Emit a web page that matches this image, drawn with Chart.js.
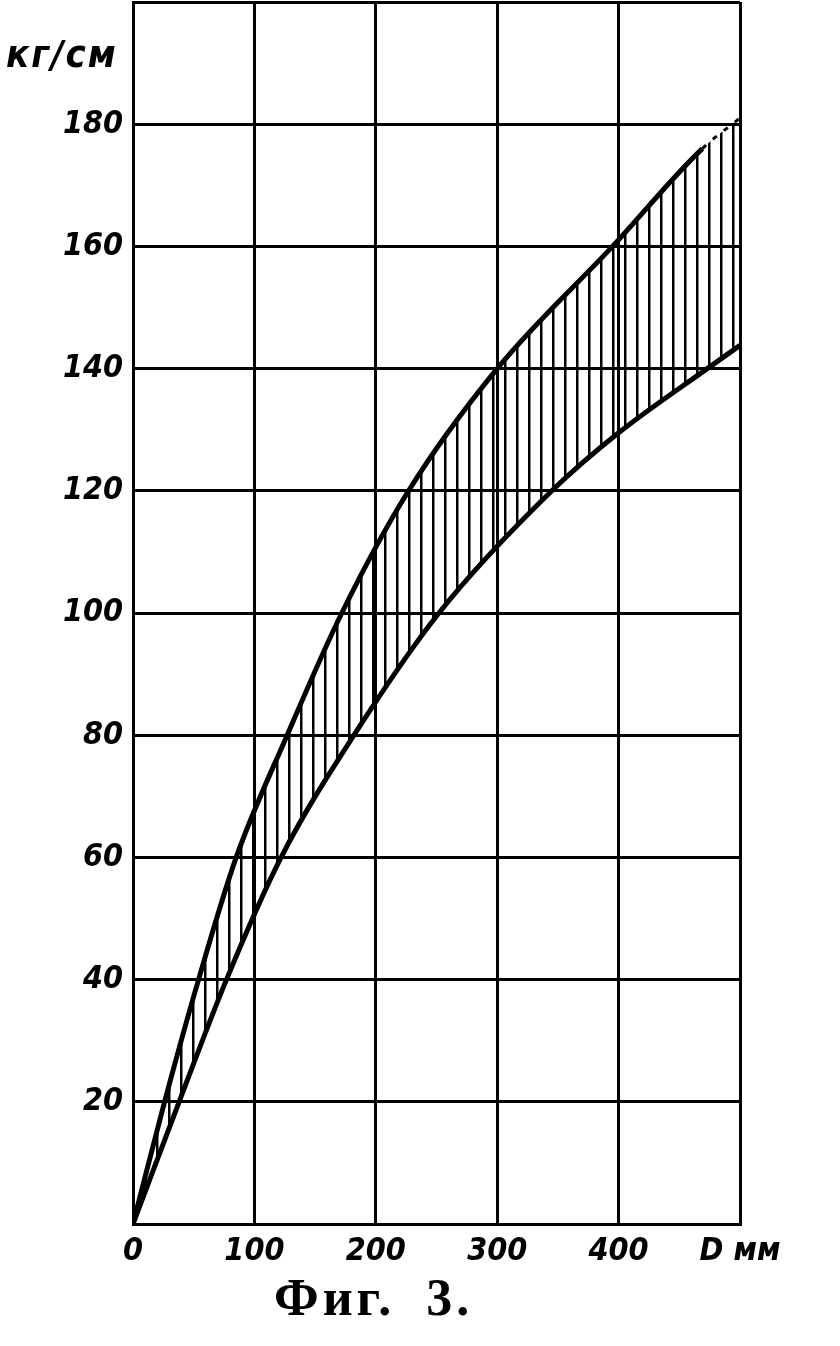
<!DOCTYPE html>
<html>
<head>
<meta charset="utf-8">
<script src="https://cdn.jsdelivr.net/npm/chart.js@4"></script>
<style>
    body { margin: 0; background: #fff; }
    #wrap { position: relative; width: 840px; height: 1346px; }
    #chart { position: absolute; left: 0; top: 0; }
    .unit {
        position: absolute; left: 6px; top: 32px;
        font: italic bold 38px "Liberation Sans Narrow", "DejaVu Sans Condensed", sans-serif;
        letter-spacing: 2px;
        color: #000;
    }
    .caption {
        position: absolute; left: 274px; top: 1268px;
        font: bold 52px "Liberation Serif", "DejaVu Serif", serif;
        letter-spacing: 4px;
        word-spacing: 14px;
        color: #000;
    }
</style>
</head>
<body>
<div id="wrap">
    <canvas id="chart" width="840" height="1346"></canvas>
    <div class="unit">кг/см</div>
    <div class="caption">Фиг. 3.</div>
</div>
<script>
// upper boundary of the band (last segment drawn dotted)
const upperX = [0, 26, 54, 85, 127, 172, 227, 300, 395, 469, 500];
const upperY = [0, 20, 40, 60, 80, 100, 120, 140, 160, 176, 181];

// lower boundary of the band
const lowerX = [0, 38, 77, 122, 182, 252, 345, 400, 473, 500];
const lowerY = [0, 20, 40, 60, 80, 100, 120, 129.5, 140, 143.8];

const xTicks = [0, 100, 200, 300, 400, 500];
const xLabels = ['0', '100', '200', '300', '400', 'D мм'];

// vertical hatching between the two curves
function makeHatch() {
    const c = document.createElement('canvas');
    c.width = 12;
    c.height = 12;
    const g = c.getContext('2d');
    g.fillStyle = '#000';
    g.fillRect(0, 0, 2.5, 12);
    return g.createPattern(c, 'repeat');
}

const toPoints = (xs, ys) => xs.map((x, i) => ({ x: x, y: ys[i] }));
const lastUpper = upperX.length - 2;

const tickFont = { family: '"Liberation Sans Narrow", "DejaVu Sans Condensed", sans-serif', size: 32, style: 'italic', weight: 'bold' };

new Chart(document.getElementById('chart'), {
    type: 'line',
    data: {
        datasets: [{
            data: toPoints(upperX, upperY),
            borderColor: '#000',
            borderWidth: 5,
            pointRadius: 0,
            cubicInterpolationMode: 'monotone',
            fill: '+1',
            backgroundColor: makeHatch(),
            segment: {
                borderDash: ctx => ctx.p0DataIndex === lastUpper ? [5, 9] : undefined,
                borderWidth: ctx => ctx.p0DataIndex === lastUpper ? 3 : undefined
            }
        }, {
            data: toPoints(lowerX, lowerY),
            borderColor: '#000',
            borderWidth: 5,
            pointRadius: 0,
            cubicInterpolationMode: 'monotone',
            fill: false
        }]
    },
    options: {
        responsive: false,
        animation: false,
        layout: { padding: { left: 0, right: 100, top: 2, bottom: 70 } },
        plugins: { legend: { display: false }, tooltip: { enabled: false } },
        scales: {
            x: {
                type: 'linear',
                min: 0,
                max: 500,
                afterBuildTicks: axis => { axis.ticks = xTicks.map(v => ({ value: v })); },
                afterFit: axis => { axis.height = 52; },
                ticks: {
                    color: '#000',
                    font: tickFont,
                    padding: 8,
                    maxRotation: 0,
                    callback: v => xLabels[xTicks.indexOf(v)]
                },
                grid: { color: '#000', lineWidth: 3, drawTicks: false },
                border: { color: '#000', width: 3 }
            },
            y: {
                min: 0,
                max: 200,
                afterFit: axis => {
                    axis.width = 133;
                    axis.paddingTop = 0;
                    axis.paddingBottom = 0;
                },
                ticks: {
                    stepSize: 20,
                    color: '#000',
                    font: tickFont,
                    padding: 10,
                    callback: v => (v === 0 || v === 200) ? '' : String(v)
                },
                grid: { color: '#000', lineWidth: 3, drawTicks: false },
                border: { color: '#000', width: 3 }
            }
        }
    }
});
</script>
</body>
</html>
